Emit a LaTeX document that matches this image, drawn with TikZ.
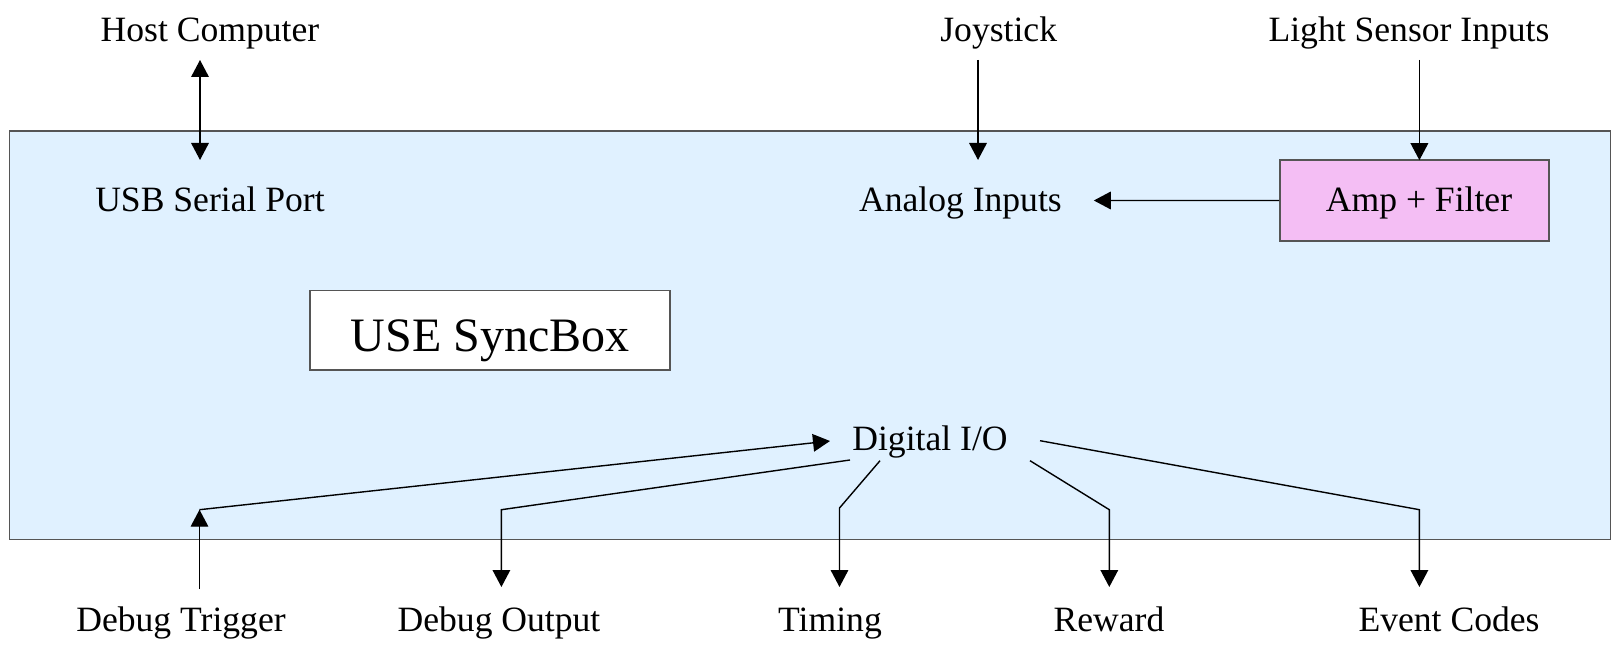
\documentclass[tikz,border=0pt]{standalone}
\usepackage{fontspec}
\setmainfont{Liberation Serif}
\usetikzlibrary{arrows.meta,fit}
\definecolor{boxblue}{RGB}{224,241,255}
\definecolor{amppink}{RGB}{244,190,244}
\definecolor{edgegray}{RGB}{85,85,85}
\begin{document}
\begin{tikzpicture}[x=0.5pt,y=-0.5pt,
  lbl/.style={inner sep=0pt, anchor=base, font=\fontsize{17.8}{20}\selectfont},
  biglbl/.style={inner sep=0pt, anchor=base, font=\fontsize{24}{28}\selectfont},
  panel/.style={draw=edgegray, line width=0.9pt, inner sep=0pt},
  conn/.style={line width=0.7pt, -{Triangle[length=8.5pt,width=8.8pt]}},
  bconn/.style={line width=0.7pt, {Triangle[length=8.5pt,width=8.8pt]}-{Triangle[length=8.5pt,width=8.8pt]}},
  wire/.style={line width=0.7pt}]
\useasboundingbox (0,0) rectangle (1621,651);
% main panel
\node[panel, fill=boxblue, fit={(9.5,131) (1610.5,539.5)}] (syncpanel) {};
% boxes
\node[panel, fill=amppink, fit={(1280,160.2) (1548.6,240.9)}] (ampbox) {};
\node[panel, fill=white, fit={(310,290.5) (670,370)}] (titlebox) {};
% labels
\node[lbl] (host) at (210,41.7) {Host Computer};
\node[lbl] (joy) at (998.7,41.7) {Joystick};
\node[lbl] (light) at (1409,41.7) {Light Sensor Inputs};
\node[lbl] (usb) at (210,211.5) {USB Serial Port};
\node[lbl] (analog) at (960.4,211.5) {Analog Inputs};
\node[lbl] (amp) at (1419,211.5) {Amp + Filter};
\node[biglbl] (title) at (490,352) {USE SyncBox};
\node[lbl] (dio) at (930,451) {Digital I/O};
\node[lbl] (dtrig) at (181,631.5) {Debug Trigger};
\node[lbl] (dout) at (499,631.5) {Debug Output};
\node[lbl] (timing) at (830,631.5) {Timing};
\node[lbl] (reward) at (1109,631.5) {Reward};
\node[lbl] (events) at (1449,631.5) {Event Codes};
% connector end points
\coordinate (hostA) at (200,60);
\coordinate (hostB) at (200,160);
\coordinate (joyA) at (978,60);
\coordinate (joyB) at (978,160);
\coordinate (lightA) at (1419.4,60);
\coordinate (lightB) at (1419.4,160.2);
\coordinate (analogTip) at (1093.8,200.5);
\coordinate (dtA) at (199.5,589);
\coordinate (dtB) at (199.5,509.7);
\coordinate (dioIn) at (830,441);
\coordinate (doA) at (850,460);
\coordinate (doB) at (501.4,509.7);
\coordinate (doC) at (501.4,587);
\coordinate (tiA) at (880,460.7);
\coordinate (tiB) at (839.5,508);
\coordinate (tiC) at (839.5,587);
\coordinate (reA) at (1030,460.7);
\coordinate (reB) at (1109.3,509.7);
\coordinate (reC) at (1109.3,587);
\coordinate (evA) at (1040,440.7);
\coordinate (evB) at (1419.4,509.7);
\coordinate (evC) at (1419.4,587);
% connectors
\draw[bconn] (hostA) -- (hostB);
\draw[conn] (joyA) -- (joyB);
\draw[conn] (lightA) -- (lightB);
\draw[conn] (ampbox.west) -- (analogTip);
\draw[conn] (dtA) -- (dtB);
\draw[conn] (dtB) -- (dioIn);
\draw[conn] (doA) -- (doB) -- (doC);
\draw[conn] (tiA) -- (tiB) -- (tiC);
\draw[conn] (reA) -- (reB) -- (reC);
\draw[conn] (evA) -- (evB) -- (evC);
\end{tikzpicture}
\end{document}
